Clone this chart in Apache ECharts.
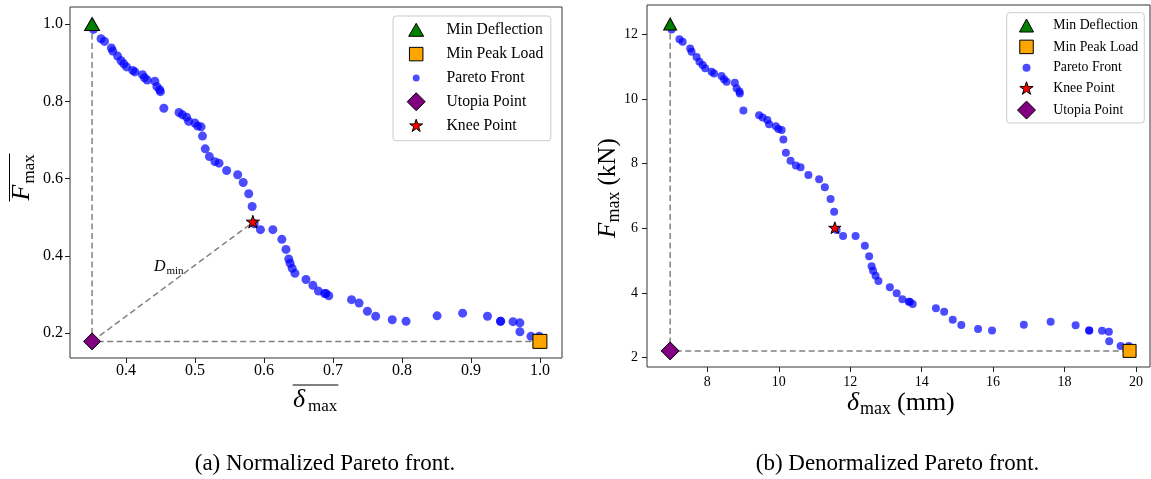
<!DOCTYPE html>
<html>
<head>
<meta charset="utf-8">
<script src="https://cdn.jsdelivr.net/npm/echarts@6/dist/echarts.min.js"></script>
<style>
  html, body { margin: 0; padding: 0; background: #fff; }
  #chart { width: 1151px; height: 479px; }
</style>
</head>
<body>
<div id="chart"></div>
<script>
// Pareto front, physical units: maximum deflection (mm) and peak load (kN)
const deflection = [7.00, 7.22, 7.31, 7.52, 7.56, 7.70, 7.78, 7.87, 7.94, 8.12,
  8.19, 8.40, 8.47, 8.54, 8.77, 8.82, 8.90, 8.91, 9.01, 9.45,
  9.55, 9.68, 9.73, 9.92, 9.99, 10.08, 10.13, 10.20, 10.33, 10.48,
  10.61, 10.83, 11.13, 11.29, 11.45, 11.55, 11.62, 11.80, 12.15, 12.41,
  12.53, 12.60, 12.64, 12.71, 12.79, 13.11, 13.30, 13.46, 13.64, 13.67,
  13.75, 14.40, 14.63, 14.87, 15.11, 15.58, 15.97, 16.86, 17.61, 18.31,
  18.69, 18.69, 19.05, 19.24, 19.25, 19.57, 19.80];
const peakLoad = [12.15, 11.85, 11.77, 11.56, 11.46, 11.30, 11.15, 11.05, 10.95, 10.84,
  10.79, 10.71, 10.61, 10.53, 10.50, 10.33, 10.23, 10.17, 9.64, 9.50,
  9.43, 9.35, 9.22, 9.16, 9.07, 9.04, 8.75, 8.34, 8.09, 7.94,
  7.89, 7.65, 7.52, 7.27, 6.91, 6.51, 5.95, 5.76, 5.76, 5.46,
  5.14, 4.83, 4.69, 4.53, 4.37, 4.18, 3.99, 3.81, 3.73, 3.73,
  3.66, 3.53, 3.42, 3.17, 3.01, 2.89, 2.84, 3.02, 3.11, 3.00,
  2.84, 2.84, 2.83, 2.80, 2.51, 2.36, 2.36];

// The same front, normalized (deflection / 19.82 mm, load / 12.32 kN)
const deflectionNorm = [0.353, 0.364, 0.369, 0.379, 0.381, 0.388, 0.393, 0.397, 0.401, 0.410,
  0.413, 0.424, 0.427, 0.431, 0.442, 0.445, 0.449, 0.450, 0.455, 0.477,
  0.482, 0.488, 0.491, 0.500, 0.504, 0.509, 0.511, 0.515, 0.521, 0.529,
  0.535, 0.546, 0.562, 0.570, 0.578, 0.583, 0.586, 0.595, 0.613, 0.626,
  0.632, 0.636, 0.638, 0.641, 0.645, 0.661, 0.671, 0.679, 0.688, 0.690,
  0.694, 0.727, 0.738, 0.750, 0.762, 0.786, 0.806, 0.851, 0.888, 0.924,
  0.943, 0.943, 0.961, 0.971, 0.971, 0.987, 0.999];
const peakLoadNorm = [0.986, 0.962, 0.955, 0.938, 0.930, 0.917, 0.905, 0.897, 0.889, 0.880,
  0.876, 0.869, 0.861, 0.855, 0.852, 0.838, 0.830, 0.825, 0.782, 0.771,
  0.765, 0.759, 0.748, 0.744, 0.736, 0.734, 0.710, 0.677, 0.657, 0.644,
  0.640, 0.621, 0.610, 0.590, 0.561, 0.528, 0.483, 0.468, 0.468, 0.443,
  0.417, 0.392, 0.381, 0.368, 0.355, 0.339, 0.324, 0.309, 0.303, 0.303,
  0.297, 0.287, 0.278, 0.257, 0.244, 0.235, 0.231, 0.245, 0.252, 0.244,
  0.231, 0.231, 0.230, 0.227, 0.204, 0.192, 0.192];

// Extreme, ideal and knee solutions [deflection, load]
const minDeflection = [6.96, 12.32];
const minPeakLoad = [19.82, 2.21];
const utopiaPoint = [6.96, 2.21];
const kneePoint = [11.57, 6.00];
const minDeflectionNorm = [0.351, 1.0];
const minPeakLoadNorm = [1.0, 0.179];
const utopiaPointNorm = [0.351, 0.179];
const kneePointNorm = [0.584, 0.487];

// Tick labels
const xTicksNorm = [0.4, 0.5, 0.6, 0.7, 0.8, 0.9, 1.0];
const yTicksNorm = [0.2, 0.4, 0.6, 0.8, 1.0];
const xTicksMm = [8, 10, 12, 14, 16, 18, 20];
const yTicksKn = [2, 4, 6, 8, 10, 12];

const SERIF = 'Liberation Serif';
const PARETO_BLUE = 'rgba(0,0,255,0.7)';

const pairs = (xs, ys) => xs.map((x, i) => [x, ys[i]]);

// ---- symbol paths -------------------------------------------------------
function starShape(cx, cy, R) {
  const r = R * 0.381966;
  let d = '';
  for (let i = 0; i < 10; i++) {
    const rad = (i % 2 === 0) ? R : r;
    const a = -Math.PI / 2 + i * Math.PI / 5;
    d += (i === 0 ? 'M' : 'L') + (cx + rad * Math.cos(a)).toFixed(3) + ' ' + (cy + rad * Math.sin(a)).toFixed(3);
  }
  return d + 'Z';
}
// star symbol for the plot, with a square, centred bounding box
const STAR_SYMBOL = 'path://M-1 -1M1 1' + starShape(0, 0, 1);

// legend icons: a W x H box holding a shape centred at (cx, H/2)
function legendIcon(kind, W, H, cx, a, b) {
  const cy = H / 2;
  let d;
  if (kind === 'triangle') {
    d = `M${cx} ${cy - b / 2}L${cx + a / 2} ${cy + b / 2}L${cx - a / 2} ${cy + b / 2}Z`;
  } else if (kind === 'square') {
    d = `M${cx - a / 2} ${cy - a / 2}L${cx + a / 2} ${cy - a / 2}L${cx + a / 2} ${cy + a / 2}L${cx - a / 2} ${cy + a / 2}Z`;
  } else if (kind === 'circle') {
    d = `M${cx + a} ${cy}A${a} ${a} 0 1 1 ${cx - a} ${cy}A${a} ${a} 0 1 1 ${cx + a} ${cy}Z`;
  } else if (kind === 'diamond') {
    d = `M${cx} ${cy - b / 2}L${cx + a / 2} ${cy}L${cx} ${cy + b / 2}L${cx - a / 2} ${cy}Z`;
  } else {
    d = starShape(cx, cy, a);
  }
  return `path://M0 0M${W} ${H}` + d;
}

function buildLegend(order, box, sizes) {
  return {
    orient: 'vertical',
    left: box.left, top: box.top,
    padding: box.padding,
    itemGap: box.gap,
    itemWidth: box.w, itemHeight: box.h,
    backgroundColor: 'rgba(255,255,255,0.8)',
    borderColor: '#cccccc', borderWidth: 1, borderRadius: 3,
    selectedMode: false,
    textStyle: { fontFamily: SERIF, fontSize: box.font, color: '#000' },
    itemStyle: { borderColor: '#000', borderWidth: 1, opacity: 1 },
    data: order.map(name => {
      const s = sizes[name];
      return {
        name,
        icon: legendIcon(s[0], box.w, box.h, box.cx, s[1], s[2]),
        itemStyle: name === 'Pareto Front'
          ? { borderWidth: 0, opacity: 1 }
          : { borderWidth: 1, borderColor: '#000', opacity: 1 }
      };
    })
  };
}

// ---- axes -----------------------------------------------------------------
function valueAxis(gridIndex, min, max, ticks, digits, fontSize, margin) {
  return {
    type: 'value', gridIndex, min, max,
    axisLine: { show: false, onZero: false },
    splitLine: { show: false },
    axisTick: { show: true, length: 5, customValues: ticks, lineStyle: { color: '#222', width: 1 } },
    axisLabel: {
      customValues: ticks,
      formatter: v => Number(v).toFixed(digits),
      fontFamily: SERIF, fontSize, color: '#000', margin
    }
  };
}

// ---- series for one panel ---------------------------------------------------
function panelSeries(idx, front, pts, sz, withDistance) {
  const guide = { color: '#808080', width: 1.5, type: [6, 3.5] };
  const base = { xAxisIndex: idx, yAxisIndex: idx, silent: true, animation: false };
  const list = [
    Object.assign({ type: 'line', name: 'guide' + idx, data: [pts.minD, pts.uto, pts.minP],
      symbol: 'none', lineStyle: guide, z: 1 }, base)
  ];
  if (withDistance) {
    list.push(Object.assign({ type: 'line', name: 'distance' + idx, data: [pts.uto, pts.knee],
      symbol: 'none', lineStyle: guide, z: 1 }, base));
  }
  const edge = { borderColor: '#000', borderWidth: 1, opacity: 1 };
  list.push(
    Object.assign({ type: 'scatter', name: 'Pareto Front', data: front, symbol: 'circle',
      symbolSize: sz.dot, itemStyle: { color: PARETO_BLUE, borderWidth: 0, opacity: 1 }, z: 2 }, base),
    Object.assign({ type: 'scatter', name: 'Min Deflection', data: [pts.minD], symbol: 'triangle',
      symbolSize: sz.tri, itemStyle: Object.assign({ color: '#008000' }, edge), z: 3 }, base),
    Object.assign({ type: 'scatter', name: 'Min Peak Load', data: [pts.minP], symbol: 'rect',
      symbolSize: sz.sq, itemStyle: Object.assign({ color: '#FFA500' }, edge), z: 3 }, base),
    Object.assign({ type: 'scatter', name: 'Utopia Point', data: [pts.uto], symbol: 'diamond',
      symbolSize: sz.dia, itemStyle: Object.assign({ color: '#800080' }, edge), z: 3 }, base),
    Object.assign({ type: 'scatter', name: 'Knee Point', data: [pts.knee], symbol: STAR_SYMBOL,
      symbolSize: sz.star, itemStyle: Object.assign({ color: '#FF0000' }, edge), z: 3 }, base)
  );
  return list;
}

const chart = echarts.init(document.getElementById('chart'), null, { renderer: 'canvas' });

const option = {
  animation: false,
  backgroundColor: '#ffffff',
  grid: [
    { left: 70, top: 7, width: 492, height: 351, show: true, borderColor: '#333', borderWidth: 1 },
    { left: 647, top: 5, width: 503, height: 362, show: true, borderColor: '#333', borderWidth: 1 }
  ],
  xAxis: [
    valueAxis(0, 0.319, 1.032, xTicksNorm, 1, 16, 5),
    valueAxis(1, 6.312, 20.392, xTicksMm, 0, 14, 8)
  ],
  yAxis: [
    valueAxis(0, 0.136, 1.044, yTicksNorm, 1, 16, 7),
    valueAxis(1, 1.712, 12.906, yTicksKn, 0, 14, 9)
  ],
  legend: [
    buildLegend(['Min Deflection', 'Min Peak Load', 'Pareto Front', 'Utopia Point', 'Knee Point'],
      { left: 393, top: 16, padding: [3.3, 7.6, 4.2, 6], gap: 3.3, w: 42, h: 20, cx: 16.7, font: 15.7 },
      { 'Min Deflection': ['triangle', 15, 13], 'Min Peak Load': ['square', 13.5],
        'Pareto Front': ['circle', 3.5], 'Utopia Point': ['diamond', 18, 18], 'Knee Point': ['star', 6.8] }),
    buildLegend(['Min Deflection', 'Min Peak Load', 'Pareto Front', 'Knee Point', 'Utopia Point'],
      { left: 1006.7, top: 12.7, padding: [3.3, 6, 3.4, 5], gap: 2.4, w: 36, h: 18, cx: 14.3, font: 13.8 },
      { 'Min Deflection': ['triangle', 14, 13], 'Min Peak Load': ['square', 13.5],
        'Pareto Front': ['circle', 4], 'Knee Point': ['star', 7], 'Utopia Point': ['diamond', 18, 18] })
  ],
  series: [].concat(
    panelSeries(0, pairs(deflectionNorm, peakLoadNorm),
      { minD: minDeflectionNorm, minP: minPeakLoadNorm, uto: utopiaPointNorm, knee: kneePointNorm },
      { dot: 9, tri: [15, 13], sq: 14, dia: 17, star: 14 }, true),
    panelSeries(1, pairs(deflection, peakLoad),
      { minD: minDeflection, minP: minPeakLoad, uto: utopiaPoint, knee: kneePoint },
      { dot: 8, tri: [13, 12], sq: 13, dia: 18, star: 13 }, false)
  )
};
chart.setOption(option);

// ---- text: axis titles, D_min annotation, panel captions --------------------
function txt(x, y, text, size, opts) {
  return {
    type: 'text', x, y, z: 100, silent: true,
    style: Object.assign({ text, fontFamily: SERIF, fontSize: size, fill: '#000',
      align: 'left', verticalAlign: 'middle' }, opts || {})
  };
}
function bar(x1, y1, x2, y2) {
  return { type: 'line', z: 100, silent: true, shape: { x1, y1, x2, y2 }, style: { stroke: '#000', lineWidth: 1 } };
}
const italic = { fontStyle: 'italic' };

// label of the minimum distance, placed by the midpoint of the utopia-knee segment
const dMid = chart.convertToPixel({ gridIndex: 0 },
  [(utopiaPointNorm[0] + kneePointNorm[0]) / 2, (utopiaPointNorm[1] + kneePointNorm[1]) / 2]);

const graphics = [
  // normalized load, rotated, with overline
  { type: 'group', x: 30, y: 200.5, rotation: Math.PI / 2, children: [
      txt(0, -7.9, 'F', 26, italic),
      txt(17, -0.2, 'max', 17),
      bar(-1, -20.5, 47, -20.5)
  ] },
  // normalized deflection, with overline
  txt(293, 400.1, 'δ', 26, italic),
  txt(308, 406.8, 'max', 17),
  bar(292.7, 385, 338.3, 385),
  // load in kN, rotated
  { type: 'group', x: 616, y: 238, rotation: Math.PI / 2, children: [
      txt(0, -7.6, 'F', 25, italic),
      txt(15.5, -1.5, 'max', 18),
      txt(52.5, -7.6, '(kN)', 25)
  ] },
  // deflection in mm
  txt(847, 403.6, 'δ', 26, italic),
  txt(860, 409.5, 'max', 18),
  txt(897, 403.6, '(mm)', 26),
  // D_min
  txt(dMid[0] - 18.4, dMid[1] - 14.8, 'D', 16, italic),
  txt(dMid[0] - 6, dMid[1] - 10.3, 'min', 11),
  // captions
  txt(325, 463.5, '(a) Normalized Pareto front.', 23, { align: 'center' }),
  txt(897.5, 463.5, '(b) Denormalized Pareto front.', 23, { align: 'center' })
];
chart.setOption({ graphic: graphics });
</script>
</body>
</html>
